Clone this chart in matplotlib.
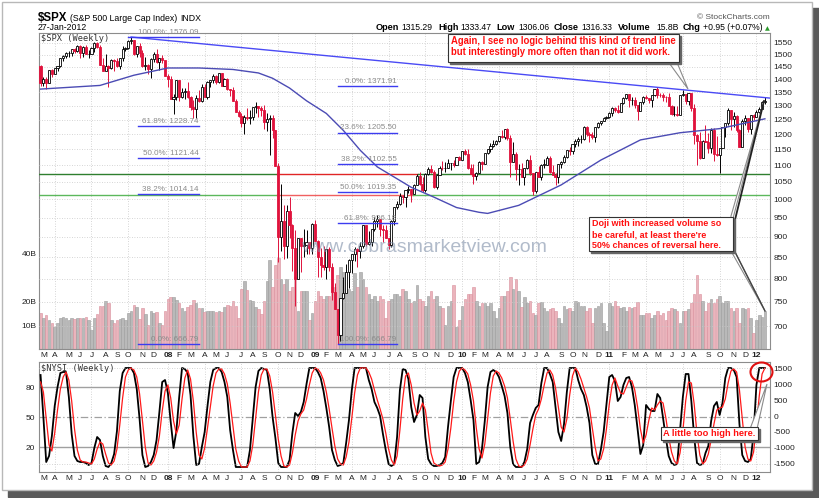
import numpy as np
import pandas as pd
import matplotlib
matplotlib.use("Agg")
import matplotlib.pyplot as plt
from matplotlib.patches import Rectangle, Polygon, Ellipse
from matplotlib.ticker import FixedLocator, NullLocator

plt.rcParams['font.family'] = ['Liberation Sans', 'DejaVu Sans']

# ---------------- data (weekly) ----------------
weeks = pd.date_range('2007-03-02', '2012-01-27', freq='W-FRI')

closes = [
    1387, 1402, 1386, 1436, 1421, 1443, 1452, 1484, 1494, 1505, 1505, 1522, 1515, 1536, 1507, 1533,
    1502, 1503, 1530, 1552, 1534, 1458, 1433, 1453, 1445, 1479, 1474, 1454, 1484, 1525, 1527, 1557,
    1561, 1501, 1535, 1509, 1453, 1458, 1440, 1481, 1504, 1468, 1484, 1478,
    1411, 1401, 1325, 1331, 1396, 1331, 1349, 1353, 1331, 1294, 1288, 1330, 1316, 1370, 1332, 1390,
    1398, 1414, 1388, 1425, 1375, 1400, 1361, 1360, 1318, 1278, 1262, 1240, 1261, 1257, 1260, 1296,
    1298, 1292, 1283, 1242, 1252, 1255, 1213, 1099, 899, 940, 877, 968, 930, 873, 800, 896,
    876, 879, 887, 873,
    932, 890, 850, 832, 826, 869, 827, 770, 735, 683, 757, 768, 816, 843, 857, 870,
    866, 878, 930, 883, 887, 919, 940, 946, 921, 918, 896, 880, 941, 979, 987, 1010,
    1005, 1027, 1029, 1016, 1042, 1068, 1044, 1025, 1072, 1087, 1080, 1036, 1069, 1093, 1091, 1091,
    1106, 1106, 1102, 1126,
    1115, 1145, 1136, 1092, 1074, 1066, 1075, 1109, 1105, 1139, 1150, 1160, 1167, 1178, 1194, 1192,
    1217, 1187, 1111, 1136, 1087, 1089, 1065, 1092, 1117, 1076, 1022, 1078, 1065, 1102, 1102, 1122,
    1079, 1071, 1065, 1105, 1110, 1126, 1149, 1146, 1166, 1176, 1183, 1183, 1225, 1200, 1199, 1190,
    1225, 1240, 1244, 1257, 1258,
    1272, 1293, 1283, 1276, 1311, 1330, 1343, 1320, 1321, 1304, 1279, 1314, 1332, 1329, 1320, 1338,
    1364, 1340, 1338, 1333, 1331, 1300, 1271, 1271, 1268, 1340, 1344, 1316, 1346, 1292, 1199, 1179,
    1124, 1177, 1174, 1154, 1216, 1136, 1131, 1155, 1224, 1238, 1285, 1253, 1263, 1216, 1159, 1244,
    1255, 1219, 1265, 1258,
    1278, 1289, 1315, 1316.33]

highs = [
    1456, 1410, 1410, 1438, 1440, 1445, 1453, 1485, 1499, 1510, 1514, 1523, 1530, 1540, 1540, 1538,
    1541, 1518, 1534, 1556, 1555, 1542, 1488, 1503, 1456, 1480, 1481, 1488, 1485, 1538, 1532, 1561,
    1576, 1565, 1536, 1552, 1520, 1492, 1460, 1488, 1510, 1523, 1485, 1498,
    1472, 1420, 1414, 1345, 1397, 1396, 1367, 1365, 1389, 1335, 1322, 1341, 1359, 1381, 1380, 1395,
    1399, 1422, 1416, 1426, 1424, 1406, 1404, 1364, 1370, 1325, 1285, 1272, 1266, 1292, 1285, 1297,
    1313, 1299, 1300, 1303, 1275, 1265, 1265, 1214, 1106, 1044, 985, 984, 1007, 934, 917, 897,
    897, 919, 918, 887,
    935, 944, 891, 872, 877, 870, 875, 836, 791, 736, 758, 804, 833, 845, 857, 875,
    871, 888, 930, 925, 916, 921, 951, 956, 944, 929, 931, 898, 943, 979, 996, 1018,
    1013, 1027, 1039, 1029, 1045, 1074, 1080, 1063, 1075, 1096, 1101, 1085, 1072, 1097, 1113, 1111,
    1120, 1108, 1117, 1127,
    1130, 1146, 1150, 1150, 1104, 1104, 1080, 1112, 1113, 1139, 1151, 1170, 1181, 1181, 1194, 1214,
    1218, 1220, 1197, 1174, 1141, 1104, 1106, 1093, 1119, 1131, 1075, 1078, 1099, 1103, 1120, 1129,
    1130, 1100, 1075, 1105, 1113, 1131, 1149, 1158, 1167, 1184, 1190, 1196, 1227, 1228, 1207, 1206,
    1226, 1241, 1247, 1259, 1262,
    1278, 1294, 1297, 1302, 1311, 1331, 1344, 1344, 1333, 1331, 1300, 1315, 1337, 1339, 1329, 1338,
    1364, 1371, 1346, 1347, 1334, 1346, 1302, 1298, 1298, 1341, 1357, 1343, 1347, 1345, 1307, 1200,
    1208, 1182, 1230, 1205, 1220, 1220, 1195, 1156, 1224, 1239, 1293, 1285, 1277, 1266, 1219, 1254,
    1267, 1255, 1265, 1270,
    1285, 1297, 1316, 1333.47]

lows = [
    1375, 1374, 1364, 1386, 1410, 1419, 1432, 1448, 1475, 1488, 1489, 1493, 1505, 1510, 1487, 1492,
    1501, 1484, 1503, 1511, 1529, 1458, 1432, 1437, 1371, 1440, 1432, 1451, 1439, 1475, 1516, 1526,
    1546, 1500, 1490, 1492, 1450, 1437, 1419, 1406, 1469, 1467, 1435, 1467,
    1411, 1370, 1324, 1270, 1322, 1317, 1330, 1325, 1330, 1285, 1257, 1256, 1312, 1315, 1331, 1324,
    1370, 1386, 1382, 1387, 1373, 1373, 1359, 1335, 1317, 1278, 1258, 1225, 1200, 1249, 1235, 1248,
    1272, 1261, 1262, 1217, 1212, 1133, 1186, 1099, 839, 866, 845, 848, 897, 818, 741, 801,
    815, 851, 857, 857,
    857, 889, 804, 805, 820, 800, 818, 754, 734, 667, 672, 756, 768, 780, 814, 840,
    826, 847, 872, 878, 879, 877, 916, 925, 903, 888, 896, 869, 875, 930, 972, 984,
    990, 979, 1019, 991, 1014, 1040, 1041, 1020, 1020, 1071, 1075, 1033, 1029, 1069, 1085, 1080,
    1091, 1086, 1096, 1100,
    1115, 1115, 1132, 1090, 1072, 1045, 1056, 1075, 1086, 1105, 1136, 1143, 1157, 1165, 1175, 1187,
    1184, 1182, 1065, 1110, 1056, 1040, 1063, 1042, 1087, 1070, 1011, 1018, 1063, 1056, 1091, 1101,
    1075, 1069, 1040, 1048, 1091, 1107, 1122, 1131, 1136, 1159, 1160, 1171, 1182, 1194, 1173, 1185,
    1174, 1222, 1232, 1244, 1254,
    1257, 1262, 1276, 1275, 1276, 1306, 1325, 1294, 1302, 1291, 1249, 1279, 1306, 1325, 1309, 1294,
    1334, 1330, 1331, 1319, 1312, 1298, 1268, 1262, 1262, 1268, 1336, 1308, 1304, 1282, 1168, 1101,
    1120, 1122, 1174, 1140, 1137, 1114, 1129, 1075, 1155, 1191, 1231, 1215, 1226, 1209, 1158, 1158,
    1231, 1209, 1202, 1248,
    1258, 1275, 1290, 1306.06]

first_open = 1451.2

volume_b = [
    15, 13, 14, 12, 11, 9, 11, 13, 13.5, 13, 12, 13, 12.5, 13, 13, 13, 13.5, 12, 8, 13,
    14.5, 18, 18, 20, 19, 12, 11, 12, 12.5, 13, 12, 15, 16, 18.5, 17.5, 12.5, 17, 14.5, 10, 16,
    15, 15.5, 11, 10, 16, 21, 21.7, 21.7, 20.6, 19, 17, 16, 17.5, 18.5, 20.6, 19, 17, 17, 15.5, 16,
    16, 16, 15.5, 16, 15.5, 17.5, 18.5, 18, 20, 18, 13, 25, 28.5, 24.5, 20.6, 20, 17.5, 16.8, 14.6, 20,
    28.5, 37, 26, 35, 38, 29, 27, 29, 24, 26, 30, 16, 24, 24, 24, 12, 15, 20, 24, 22,
    21, 22, 22, 26, 26, 31, 34, 32, 30, 25, 24, 31.5, 26, 32, 29, 26, 23, 21, 22, 20,
    22, 21, 13, 20, 21, 23, 23, 22, 25, 24, 21, 19, 20, 26.7, 21, 20, 18, 22, 24, 21,
    22, 18, 17, 10, 18, 20, 26.7, 9, 12, 18, 21, 23, 23, 26, 20, 18, 19, 19, 18, 19,
    16, 13, 17, 22, 22, 24, 30, 25, 29, 24, 17.5, 21.7, 19, 20, 15, 14, 19, 19.5, 17, 16,
    16.5, 17, 16, 13, 11, 18, 16.5, 17, 16, 20, 19.5, 18, 18, 16, 17, 11, 17, 18, 19, 11,
    7.5, 19, 18, 20, 18, 17, 17.5, 16, 17.5, 17, 17.5, 19.5, 14, 14, 15, 15, 13, 14, 16, 14,
    15, 12, 16, 17, 16.5, 16, 11, 16, 16, 16.5, 19, 23, 31, 23, 20, 16, 19, 21, 19, 21,
    22, 19, 20, 20, 17, 16, 17, 11, 17, 16.5, 17, 13, 6.7, 12, 14, 13.5, 15.8]

# $NYSI weekly stochastic lines (0-100 scale, left axis)
nysi_k = [
    92, 50, 5, 11, 31, 61, 80, 94, 95, 95,
    70, 33, 11, 6, 5, 5, 4, 2, 4, 19,
    30, 27, 11, 1, 0, 4, 13, 36, 76, 94,
    99, 99, 99, 94, 78, 48, 12, 0, 1, 5,
    12, 27, 55, 85, 87, 74, 45, 19, 36, 70,
    99, 98, 94, 72, 31, 2, 3, 20, 35, 61,
    85, 97, 99, 99, 95, 85, 70, 37, 17, 0,
    0, 0, 0, 0, 17, 49, 80, 96, 99, 98,
    97, 78, 50, 29, 4, 0, 0, 0, 7, 34,
    54, 51, 55, 65, 83, 99, 99, 99, 95, 89,
    76, 59, 40, 17, 7, 1, 2, 4, 24, 47,
    77, 99, 99, 99, 99, 99, 87, 78, 65, 59,
    51, 33, 17, 3, 1, 3, 30, 77, 98, 97,
    88, 60, 45, 52, 72, 69, 30, 8, 3, 1,
    1, 2, 4, 10, 40, 66, 90, 99, 99, 99,
    94, 85, 67, 47, 3, 5, 18, 46, 80, 95,
    97, 95, 90, 81, 71, 54, 20, 3, 0, 0,
    0, 5, 18, 44, 52, 59, 62, 84, 99, 99,
    93, 85, 60, 35, 26, 43, 75, 99, 99, 99,
    87, 78, 72, 60, 44, 12, 3, 3, 17, 35,
    63, 90, 92, 86, 66, 70, 82, 89, 90, 80,
    62, 38, 13, 22, 62, 58, 56, 56, 73, 69,
    49, 29, 11, 4, 2, 3, 36, 70, 93, 93,
    66, 30, 4, 2, 3, 14, 21, 46, 61, 65,
    52, 64, 89, 99, 99, 97, 90, 43, 12, 6,
    5, 8, 33, 82, 99, 99, 99]

nysi_d = [
    85, 75, 49, 22, 16, 34, 57, 78, 90, 95,
    87, 66, 38, 17, 7, 5, 5, 4, 3, 8,
    18, 25, 23, 13, 4, 2, 6, 18, 42, 69,
    90, 97, 99, 97, 90, 73, 46, 20, 4, 2,
    6, 15, 31, 56, 76, 82, 69, 46, 33, 42,
    68, 89, 97, 88, 66, 35, 12, 8, 19, 39,
    60, 81, 94, 98, 98, 93, 83, 64, 41, 18,
    6, 0, 0, 0, 6, 22, 49, 75, 92, 98,
    98, 91, 75, 52, 28, 11, 1, 0, 2, 14,
    32, 46, 53, 57, 68, 82, 94, 99, 98, 94,
    87, 75, 58, 39, 21, 8, 3, 2, 10, 25,
    49, 74, 92, 99, 99, 99, 95, 88, 77, 67,
    58, 48, 34, 18, 7, 2, 11, 37, 68, 91,
    94, 82, 64, 52, 56, 64, 57, 36, 14, 4,
    2, 1, 2, 5, 18, 39, 65, 85, 96, 99,
    97, 93, 82, 66, 39, 18, 9, 23, 48, 74,
    91, 96, 94, 89, 81, 69, 48, 26, 8, 1,
    0, 2, 8, 22, 38, 52, 58, 68, 82, 94,
    97, 92, 79, 60, 40, 35, 48, 72, 91, 99,
    95, 88, 79, 70, 59, 39, 20, 6, 8, 18,
    38, 63, 82, 89, 81, 74, 73, 80, 87, 86,
    77, 60, 38, 24, 32, 47, 59, 57, 62, 66,
    64, 49, 30, 15, 6, 3, 14, 36, 66, 85,
    84, 63, 33, 12, 3, 6, 13, 27, 43, 57,
    59, 60, 68, 84, 96, 98, 95, 77, 48, 20,
    8, 6, 15, 41, 71, 93, 99]

# moving average read at a few bar positions
ma_idx = [0, 21, 33, 45, 56, 68, 77, 82, 88, 94, 101, 107, 113, 119, 131, 139, 147, 155, 158,
          169, 184, 198, 212, 226, 240, 256]
ma_val = [1362, 1376, 1416, 1445, 1445, 1439, 1425, 1404, 1366, 1318, 1272, 1213, 1147, 1095,
          1034, 1006, 977, 964, 961, 983, 1041, 1116, 1181, 1205, 1219, 1253]

# trend line: Oct-2007 top to right edge
trend_idx = [32, 257.8]
trend_val = [1576.09, 1328]

# fibonacci retracement sets
fib_left_pct = ['100.0%', '61.8%', '50.0%', '38.2%', '0.0%']
fib_left_val = [1576.09, 1228.74, 1121.44, 1014.14, 666.79]
fib_mid_pct = ['0.0%', '23.6%', '38.2%', '50.0%', '61.8%', '100.0%']
fib_mid_val = [1371.91, 1205.50, 1102.55, 1019.35, 936.18, 666.79]

support_hi = 1074.77
support_lo = 1010.91

header_labels = ['Open', 'High', 'Low', 'Close', 'Volume', 'Chg']
header_values = ['1315.29', '1333.47', '1306.06', '1316.33', '15.8B', '+0.95 (+0.07%)']

# ---------------- figure ----------------
W, H = 820, 498
fig = plt.figure(figsize=(W / 100, H / 100), dpi=100)
fig.patch.set_facecolor('white')


def fxy(x, y):
    return x / W, 1 - y / H


def add_rect(x0, y0, x1, y1, **kw):
    fig.add_artist(Rectangle(fxy(x0, y1), (x1 - x0) / W, (y1 - y0) / H,
                             transform=fig.transFigure, **kw))


def add_poly(pts, **kw):
    fig.add_artist(Polygon([fxy(x, y) for x, y in pts], closed=True,
                           transform=fig.transFigure, **kw))


def add_line(pts, **kw):
    xs, ys = zip(*[fxy(x, y) for x, y in pts])
    fig.add_artist(plt.Line2D(xs, ys, transform=fig.transFigure, **kw))


# outer frame with shadow
add_rect(8, 490, 819, 497, color='#5a5a5a', zorder=-5)
add_rect(812, 8, 819, 497, color='#5a5a5a', zorder=-5)
add_rect(2, 2, 812, 490, facecolor='white', edgecolor='#b8b8b8', lw=1, zorder=-4)

n = len(closes)
x = np.arange(n)
opens = np.r_[first_open, closes[:-1]]
closes_a = np.array(closes, dtype=float)
up = closes_a >= opens
XL = (-0.55, 257.8)
GRID = '#c8c8c8'
BORDER = '#8c8c8c'
RED = '#e0123c'

# month positions: first week whose Monday falls in the month
mondays = weeks - pd.Timedelta(days=4)
mpos, mlab, years, quarters = [], [], [], []
prev = (mondays[0].year, mondays[0].month)
for i, d in enumerate(mondays):
    key = (d.year, d.month)
    if key != prev:
        mpos.append(i)
        if d.month == 1:
            mlab.append('%02d' % (d.year % 100))
            years.append(True)
        else:
            mlab.append('JFMAMJJASOND'[d.month - 1])
            years.append(False)
        if d.month in (1, 4, 7, 10):
            quarters.append(i)
        prev = key


def style_xaxis(a):
    a.set_xlim(*XL)
    a.xaxis.set_major_locator(FixedLocator(mpos))
    a.set_xticklabels(mlab)
    a.tick_params(axis='x', length=0, pad=2.2, labelsize=6, colors='#222222')
    for lab, yr in zip(a.get_xticklabels(), years):
        if yr:
            lab.set_fontweight('bold')
    for q in quarters:
        a.axvline(q, color=GRID, lw=0.6, ls=(0, (1, 2)), zorder=0)
    for s in a.spines.values():
        s.set_color(BORDER)
        s.set_linewidth(0.8)


# ---- price panel: volume (left axis) underneath ----
ax_v = fig.add_axes([39 / W, 1 - 349 / H, (770 - 39) / W, (349 - 33) / H])
style_xaxis(ax_v)
ax_v.set_ylim(0, 131.7)
ax_v.set_yticks([10, 20, 40])
ax_v.set_yticklabels(['10B', '20B', '40B'])
ax_v.tick_params(axis='y', length=0, pad=1.5, labelsize=6, colors='#222222')
vcol = np.where(up, '#b9b9b9', '#ebb4bc')
vedge = np.where(up, '#9c9c9c', '#d98f9c')
ax_v.bar(x, volume_b, width=0.9, color=vcol, edgecolor=vedge, lw=0.4, zorder=1)

# ---- price candles (right log axis) ----
ax_p = ax_v.twinx()
ax_p.set_yscale('log')
ax_p.set_xlim(*XL)
ax_p.set_ylim(657, 1594)
pt = list(range(700, 1551, 50))
ax_p.yaxis.set_major_locator(FixedLocator(pt))
ax_p.yaxis.set_minor_locator(NullLocator())
ax_p.set_yticklabels([str(v) for v in pt])
ax_p.tick_params(axis='y', which='both', length=0, pad=2.5, labelsize=6, colors='#222222')
for s in ax_p.spines.values():
    s.set_visible(False)
for v in pt:
    ax_p.axhline(v, color=GRID, lw=0.6, ls=(0, (1, 2)), zorder=0)

ccol = np.where(up, 'black', RED)
ax_p.vlines(x, lows, highs, colors=ccol, lw=0.7, zorder=3)
body_lo = np.minimum(opens, closes_a)
body_h = np.maximum(np.abs(closes_a - opens), 0.6)
ax_p.bar(x, body_h, bottom=body_lo, width=0.75,
         color=np.where(up, 'white', RED), edgecolor=ccol, lw=0.6, zorder=4)

# moving average + trend line
ax_p.plot(ma_idx, ma_val, color='#4b4bb4', lw=1.0, zorder=5)
ax_p.plot(trend_idx, trend_val, color='#4a4af5', lw=1.0, zorder=5)

# support lines with coloured segments
ax_p.plot([XL[0], 83.6], [support_hi] * 2, color='#2f7f2f', lw=1.0, zorder=2)
ax_p.plot([83.6, 133.4], [support_hi] * 2, color='#e02525', lw=1.0, zorder=2)
ax_p.plot([133.4, XL[1]], [support_hi] * 2, color='#2f7f2f', lw=1.0, zorder=2)
ax_p.plot([XL[0], 83.6], [support_lo] * 2, color='#5cb85c', lw=1.0, zorder=2)
ax_p.plot([83.6, 131.6], [support_lo] * 2, color='#f06060', lw=1.0, zorder=2)
ax_p.plot([131.6, XL[1]], [support_lo] * 2, color='#5cb85c', lw=1.0, zorder=2)

# fibonacci lines and labels
for k, (pct, val) in enumerate(zip(fib_left_pct, fib_left_val)):
    x0 = 31 if k == 0 else 34.5
    ax_p.plot([x0, 56], [val, val], color='#3c3cf0', lw=1.0, zorder=6)
    ax_p.annotate('%s: %.2f' % (pct, val), (55.8, val), xytext=(0, 0.8),
                  textcoords='offset points', ha='right', va='bottom',
                  fontsize=5.8, color='#8a8a8a', zorder=6)
for pct, val in zip(fib_mid_pct, fib_mid_val):
    ax_p.plot([105, 126], [val, val], color='#3c3cf0', lw=1.0, zorder=6)
    ax_p.annotate('%s: %.2f' % (pct, val), (125.8, val), xytext=(0, 0.8),
                  textcoords='offset points', ha='right', va='bottom',
                  fontsize=5.8, color='#8a8a8a', zorder=6)

# ---- NYSI panel ----
ax_n = fig.add_axes([39 / W, 1 - 472 / H, (770 - 39) / W, (472 - 362) / H])
style_xaxis(ax_n)
ax_n.set_ylim(-5, 105)
ax_n.set_yticks([20, 50, 80])
ax_n.tick_params(axis='y', length=0, pad=3, labelsize=6, colors='#222222')
ax_n.axhline(80, color='#a0a0a0', lw=1.0, zorder=1)
ax_n.axhline(20, color='#a0a0a0', lw=1.0, zorder=1)
ax_n.axhline(50, color='#a0a0a0', lw=0.9, ls=(0, (6, 2, 1, 2)), zorder=1)
ax_n.plot(x, nysi_k, color='black', lw=1.3, zorder=3)
ax_n.plot(x, nysi_d, color='#ff1a1a', lw=0.9, zorder=4)

ax_n2 = ax_n.twinx()
ax_n2.set_ylim((-5 - 51) / 0.03167, (105 - 51) / 0.03167)
rt = [-1500, -1000, -500, 0, 500, 1000, 1500]
ax_n2.set_yticks(rt)
ax_n2.set_yticklabels([str(v) for v in rt])
ax_n2.tick_params(axis='y', length=0, pad=2.5, labelsize=6, colors='#222222')
for s in ax_n2.spines.values():
    s.set_visible(False)
for v in (-1500, 1500):
    ax_n2.axhline(v, color=GRID, lw=0.6, ls=(0, (1, 2)), zorder=0)

# ---- panel labels ----
fig.text(*fxy(41, 34), '$SPX (Weekly)', family='DejaVu Sans Mono', fontsize=6.2,
         color='#333333', va='top', ha='left', zorder=10)
fig.text(*fxy(41, 364), '$NYSI (Weekly)', family='DejaVu Sans Mono', fontsize=6.2,
         color='#333333', va='top', ha='left', zorder=10)

# ---- header ----
fig.text(*fxy(38, 21), '$SPX', fontsize=8.3, fontweight='bold', va='baseline')
fig.text(*fxy(70, 21), '(S&P 500 Large Cap Index)', fontsize=6.3, va='baseline')
fig.text(*fxy(180, 21), 'INDX', fontsize=6.3, va='baseline')
fig.text(*fxy(38, 30), '27-Jan-2012', fontsize=6.3, va='baseline')
fig.text(*fxy(770, 19), '\u00a9 StockCharts.com', fontsize=6, color='#555555',
         ha='right', va='baseline')
lab_x = [376, 438, 496, 554, 618, 683]
val_x = [401, 460, 518, 581, 656, 703]
for lx, vx, lab, val in zip(lab_x, val_x, header_labels, header_values):
    fig.text(*fxy(lx, 30), lab, fontsize=6.6, fontweight='bold', va='baseline')
    fig.text(*fxy(vx, 30), val, fontsize=6.2, va='baseline')
fig.text(*fxy(765, 30), '\u25b2', family='DejaVu Sans', fontsize=4.5, color='#2a9a2a',
         va='baseline')

# ---- watermark ----
fig.text(*fxy(424, 247), 'www.cobrasmarketview.com', fontsize=14, color='#7d8ea8',
         alpha=0.6, ha='center', va='center', zorder=8)

# ---- callout boxes ----
ZA = 20


def callout(x0, y0, x1, y1, lines, line_y, tx, fs):
    add_rect(x0 + 2, y0 + 2, x1 + 2, y1 + 2, color='#666666', zorder=ZA)
    add_rect(x0, y0, x1, y1, facecolor='white', edgecolor='#333333', lw=0.8, zorder=ZA + 1)
    for s, yy in zip(lines, line_y):
        fig.text(*fxy(tx, yy), s, fontsize=fs, fontweight='bold', color='#ff1010',
                 va='center', ha='left', zorder=ZA + 2)


# top box
add_poly([(667, 60), (676, 60), (688, 89)], facecolor='white', edgecolor='#8a8a8a',
         lw=0.8, zorder=ZA)
callout(448, 34, 679, 62,
        ['Again, I see no logic behind this kind of trend line',
         'but interestingly more often than not it did work.'], [40.5, 52], 451, 6.85)

# doji box
add_poly([(731, 216), (731, 226), (764, 101)], facecolor='white', edgecolor='#8a8a8a',
         lw=0.8, zorder=ZA)
add_line([(734, 224), (764, 101)], color='#222222', lw=1.3, zorder=ZA)
add_poly([(731, 244), (731, 251), (765, 311)], facecolor='white', edgecolor='#8a8a8a',
         lw=0.8, zorder=ZA)
add_line([(734, 250), (765, 311)], color='#444444', lw=1.0, zorder=ZA)
callout(589, 217, 733, 251,
        ['Doji with increased volume so',
         'be careful, at least there\'re',
         '50% chances of reversal here.'], [223, 234.5, 246], 592, 6.5)

# NYSI box
add_poly([(750, 429), (757, 429), (767, 384)], facecolor='white', edgecolor='#8a8a8a',
         lw=0.8, zorder=ZA)
callout(661, 427, 758, 440, ['A little too high here.'], [433.5], 663, 6.7)

fig.add_artist(Ellipse(fxy(761.5, 372), 22 / W, 19 / H, transform=fig.transFigure,
                       fill=False, edgecolor='#e01010', lw=1.5, zorder=ZA + 3))

fig.savefig('out.png', dpi=100)
